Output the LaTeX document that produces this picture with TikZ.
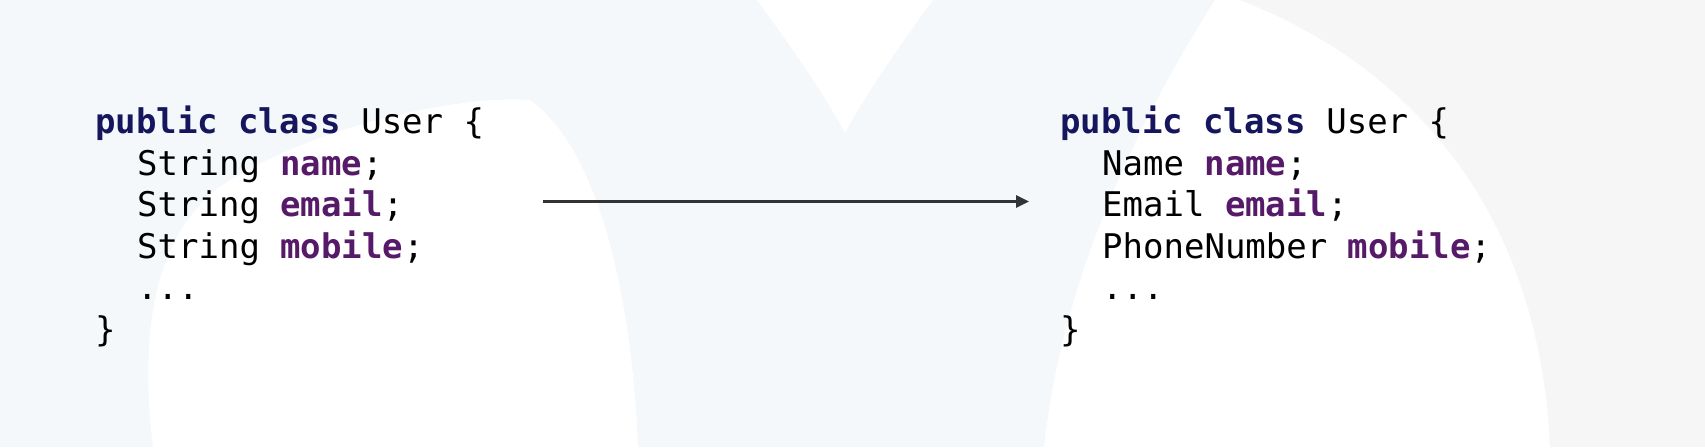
\documentclass[tikz,border=0pt]{standalone}
\usepackage{fontspec}
\setmonofont{DejaVu Sans Mono}
\usetikzlibrary{arrows.meta}
\definecolor{kwcol}{HTML}{16165E}
\definecolor{fldcol}{HTML}{561A68}
\definecolor{tintcol}{HTML}{F4F8FB}
\definecolor{graycol}{HTML}{F6F6F7}
\definecolor{arrcol}{HTML}{333333}
\newcommand{\cKw}[1]{\textbf{\color{kwcol}#1}}
\newcommand{\cFld}[1]{\textbf{\color{fldcol}#1}}
\tikzset{
  codeline/.style={anchor=base west, inner sep=0pt, font=\ttfamily\fontsize{34}{41}\selectfont, text=black},
  conn/.style={line width=2.6pt, draw=arrcol, -{Triangle[length=13pt,width=12pt]}}
}
\begin{document}
\begin{tikzpicture}[x=1pt,y=-1pt]
\useasboundingbox (0,0) rectangle (1705,447);
% background watermark
\fill[tintcol] (0,0) rectangle (1705,447);
% left white blob
\fill[white] (153,447) .. controls (140,340) and (150,230) .. (230,180)
  .. controls (330,120) and (470,95) .. (530,100)
  .. controls (600,150) and (632,300) .. (638,447) -- cycle;
% top V
\fill[white] (757,0) -- (933,0) .. controls (900,45) and (865,95) .. (845,133)
  .. controls (825,95) and (790,45) .. (757,0) -- cycle;
% right white area
\fill[white] (1044,447) .. controls (1060,300) and (1120,150) .. (1215,0)
  -- (1705,0) -- (1705,447) -- cycle;
% gray band on the right
\fill[graycol] (1240,0) .. controls (1420,70) and (1540,220) .. (1550,447)
  -- (1705,447) -- (1705,0) -- cycle;
% left code
\node[codeline] (l1) at (95,133) {\cKw{public class} User \{};
\node[codeline] (l2) at (137,175) {String \cFld{name};};
\node[codeline] (l3) at (137,216.5) {String \cFld{email};};
\node[codeline] (l4) at (137,258) {String \cFld{mobile};};
\node[codeline] (l5) at (137,299.5) {...};
\node[codeline] (l6) at (95,341) {\}};
% right code
\node[codeline] (r1) at (1060,133) {\cKw{public class} User \{};
\node[codeline] (r2) at (1102,175) {Name \cFld{name};};
\node[codeline] (r3) at (1102,216.5) {Email \cFld{email};};
\node[codeline] (r4) at (1102,258) {PhoneNumber \cFld{mobile};};
\node[codeline] (r5) at (1102,299.5) {...};
\node[codeline] (r6) at (1060,341) {\}};
% arrow
\coordinate (as) at (543,201.5);
\coordinate (ae) at (1029,201.5);
\draw[conn] (as) -- (ae);
\end{tikzpicture}
\end{document}
